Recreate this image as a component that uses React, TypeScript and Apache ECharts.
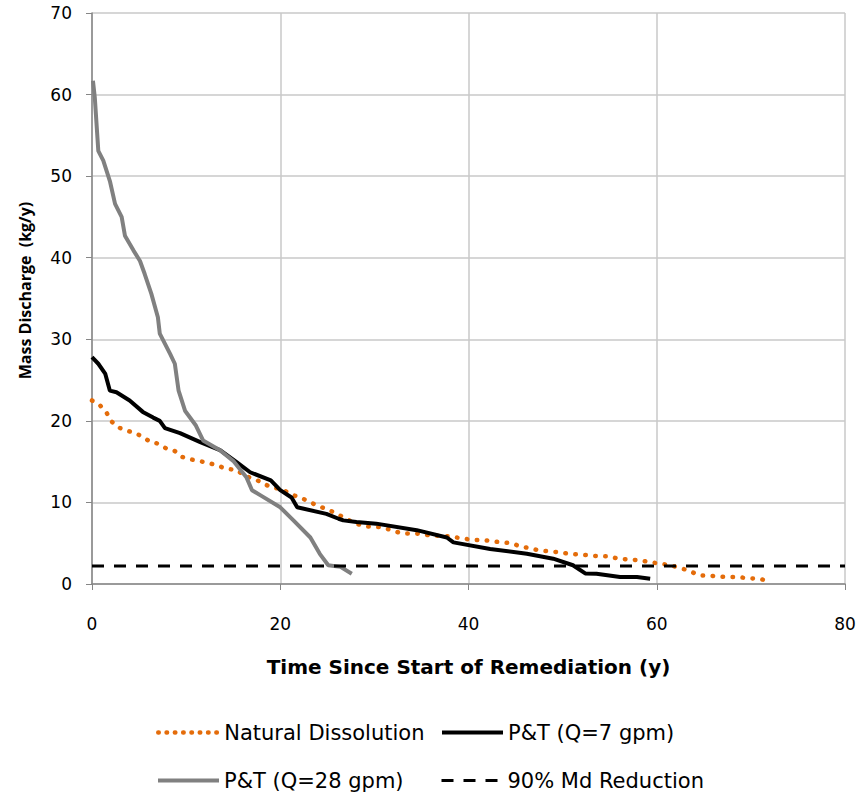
import React, { useEffect, useRef } from "react";
import * as echarts from "echarts";

const xTicks = [0, 20, 40, 60, 80];
const yTicks = [0, 10, 20, 30, 40, 50, 60, 70];

const ndX = [0, 0.85, 1.55, 2.1, 2.8, 3.7, 4.6, 5.45, 6.2, 7.05, 7.9, 8.8, 9.5, 10.4, 11.5, 12.5, 13.4, 14.3, 15.35, 16.2, 17.1, 18.0, 18.9, 19.8, 20.7, 21.6, 22.5, 23.4, 24.2, 25.3, 26.0, 27.0, 27.9, 29.1, 30.8, 31.8, 32.9, 33.9, 35.0, 36.1, 37.2, 38.2, 39.3, 40.4, 41.4, 42.5, 43.5, 44.6, 45.5, 46.5, 47.5, 48.6, 49.6, 50.7, 51.9, 52.9, 53.8, 54.9, 55.9, 57.1, 58.2, 59.2, 60.3, 61.4, 62.4, 63.5, 64.5, 65.5, 66.6, 67.6, 68.7, 69.7, 70.9, 71.9];
const ndY = [22.5, 21.9, 21.0, 19.9, 19.2, 18.8, 18.5, 18.0, 17.4, 17.2, 16.6, 16.3, 15.6, 15.3, 15.05, 14.8, 14.5, 14.1, 14.0, 13.3, 12.9, 12.5, 11.9, 11.7, 11.3, 10.8, 10.4, 9.9, 9.5, 9.0, 8.6, 8.0, 7.45, 7.05, 6.96, 6.6, 6.2, 6.2, 6.15, 5.9, 5.9, 5.8, 5.6, 5.4, 5.4, 5.25, 5.1, 5.0, 4.6, 4.4, 4.1, 4.0, 3.9, 3.7, 3.6, 3.5, 3.4, 3.4, 3.1, 3.0, 2.9, 2.7, 2.5, 2.3, 2.0, 1.6, 1.05, 1.05, 0.9, 0.85, 0.85, 0.7, 0.64, 0.35];

const pt7X = [0, 0.67, 1.4, 1.9, 2.6, 4.0, 5.4, 6.5, 7.2, 7.75, 9.35, 11.5, 13.6, 15.4, 16.8, 19.0, 20.0, 21.2, 21.8, 24.9, 26.2, 26.7, 28.1, 30.2, 34.5, 37.7, 38.4, 42.3, 46.2, 49.0, 51.1, 52.4, 53.6, 56.1, 57.9, 59.3];
const pt7Y = [27.8, 27.0, 25.8, 23.7, 23.5, 22.5, 21.1, 20.4, 20.0, 19.1, 18.5, 17.4, 16.4, 14.9, 13.7, 12.7, 11.5, 10.6, 9.4, 8.6, 8.0, 7.8, 7.6, 7.4, 6.6, 5.7, 5.1, 4.3, 3.7, 3.1, 2.3, 1.3, 1.25, 0.85, 0.85, 0.64];

const pt28X = [0.1, 0.3, 0.67, 1.2, 1.9, 2.45, 3.15, 3.5, 4.4, 5.1, 5.6, 6.3, 7.0, 7.2, 8.3, 8.8, 9.2, 9.9, 11.0, 11.8, 13.6, 15.0, 16.4, 17.0, 18.0, 20.0, 21.4, 23.2, 24.2, 25.1, 26.4, 27.6];
const pt28Y = [61.7, 59.6, 53.1, 51.9, 49.4, 46.6, 45.0, 42.7, 40.9, 39.6, 38.0, 35.6, 32.7, 30.7, 28.2, 27.0, 23.7, 21.2, 19.5, 17.6, 16.4, 15.1, 13.1, 11.5, 10.8, 9.4, 7.8, 5.7, 3.7, 2.3, 2.1, 1.25];

const targetX = [0, 80];
const targetY = [2.2, 2.2];

const zip = (xs: number[], ys: number[]) => xs.map((x, i) => [x, ys[i]]);

const FONT = "DejaVu Sans";

export default function App() {
  const ref = useRef<HTMLDivElement>(null);
  useEffect(() => {
    document.body.style.margin = "0";
    const chart = echarts.init(ref.current!, null, { renderer: "svg" });
    const legendBase = {
      orient: "horizontal" as const,
      selectedMode: false,
      itemHeight: 14,
      itemWidth: 61,
      itemGap: 0,
      itemStyle: { opacity: 0 },
      textStyle: { fontFamily: FONT, fontSize: 21, color: "#000" },
    };
    chart.setOption({
      animation: false,
      backgroundColor: "#fff",
      grid: { left: 92, right: 14, top: 13, bottom: 217, containLabel: false },
      xAxis: {
        type: "value",
        min: xTicks[0],
        max: xTicks[xTicks.length - 1],
        interval: 20,
        name: "Time Since Start of Remediation (y)",
        nameLocation: "middle",
        nameGap: 73,
        nameTextStyle: { fontFamily: FONT, fontSize: 20, fontWeight: "bold", color: "#000" },
        axisLine: { show: true, onZero: false, lineStyle: { color: "#868686", width: 1.5 } },
        axisTick: { show: true, length: 6, lineStyle: { color: "#868686" } },
        axisLabel: { fontFamily: FONT, fontSize: 17, color: "#000", margin: 31 },
        splitLine: { show: true, lineStyle: { color: "#c8c8c8", width: 1.5 } },
      },
      yAxis: {
        type: "value",
        min: yTicks[0],
        max: yTicks[yTicks.length - 1],
        interval: 10,
        name: "Mass Discharge  (kg/y)",
        nameLocation: "middle",
        nameGap: 59,
        nameTextStyle: { fontFamily: "Open Sans", fontSize: 16, fontWeight: "bold", color: "#000", padding: [0, 0, 0, 16] },
        axisLine: { show: true, lineStyle: { color: "#868686", width: 1.5 } },
        axisTick: { show: true, length: 6, lineStyle: { color: "#868686" } },
        axisLabel: { fontFamily: FONT, fontSize: 17, color: "#000", margin: 20 },
        splitLine: { show: true, lineStyle: { color: "#c8c8c8", width: 1.5 } },
      },
      legend: [
        { ...legendBase, data: ["Natural Dissolution"], left: 151, top: 717, lineStyle: { width: 4.5, type: [0.5, 7.8], cap: "round" } },
        { ...legendBase, data: ["P&T (Q=7 gpm)"], left: 435, top: 717, lineStyle: { width: 4 } },
        { ...legendBase, data: ["P&T (Q=28 gpm)"], left: 151, top: 765, lineStyle: { width: 4 } },
        { ...legendBase, data: ["90% Md Reduction"], left: 435, top: 765, lineStyle: { width: 3, type: [12, 10] } },
      ],
      series: [
        {
          name: "Natural Dissolution",
          type: "line",
          data: zip(ndX, ndY),
          showSymbol: false,
          symbol: "none",
          lineStyle: { color: "#E46C0A", width: 4.5, type: [0.5, 9.5], cap: "round" },
          itemStyle: { color: "#E46C0A" },
        },
        {
          name: "P&T (Q=7 gpm)",
          type: "line",
          data: zip(pt7X, pt7Y),
          showSymbol: false,
          symbol: "none",
          lineStyle: { color: "#000", width: 4 },
          itemStyle: { color: "#000" },
        },
        {
          name: "P&T (Q=28 gpm)",
          type: "line",
          data: zip(pt28X, pt28Y),
          showSymbol: false,
          symbol: "none",
          lineStyle: { color: "#808080", width: 4 },
          itemStyle: { color: "#808080" },
        },
        {
          name: "90% Md Reduction",
          type: "line",
          data: zip(targetX, targetY),
          showSymbol: false,
          symbol: "none",
          lineStyle: { color: "#000", width: 3, type: [12, 10] },
          itemStyle: { color: "#000" },
        },
      ],
    });
    return () => chart.dispose();
  }, []);
  return <div ref={ref} style={{ width: 859, height: 801 }} />;
}
